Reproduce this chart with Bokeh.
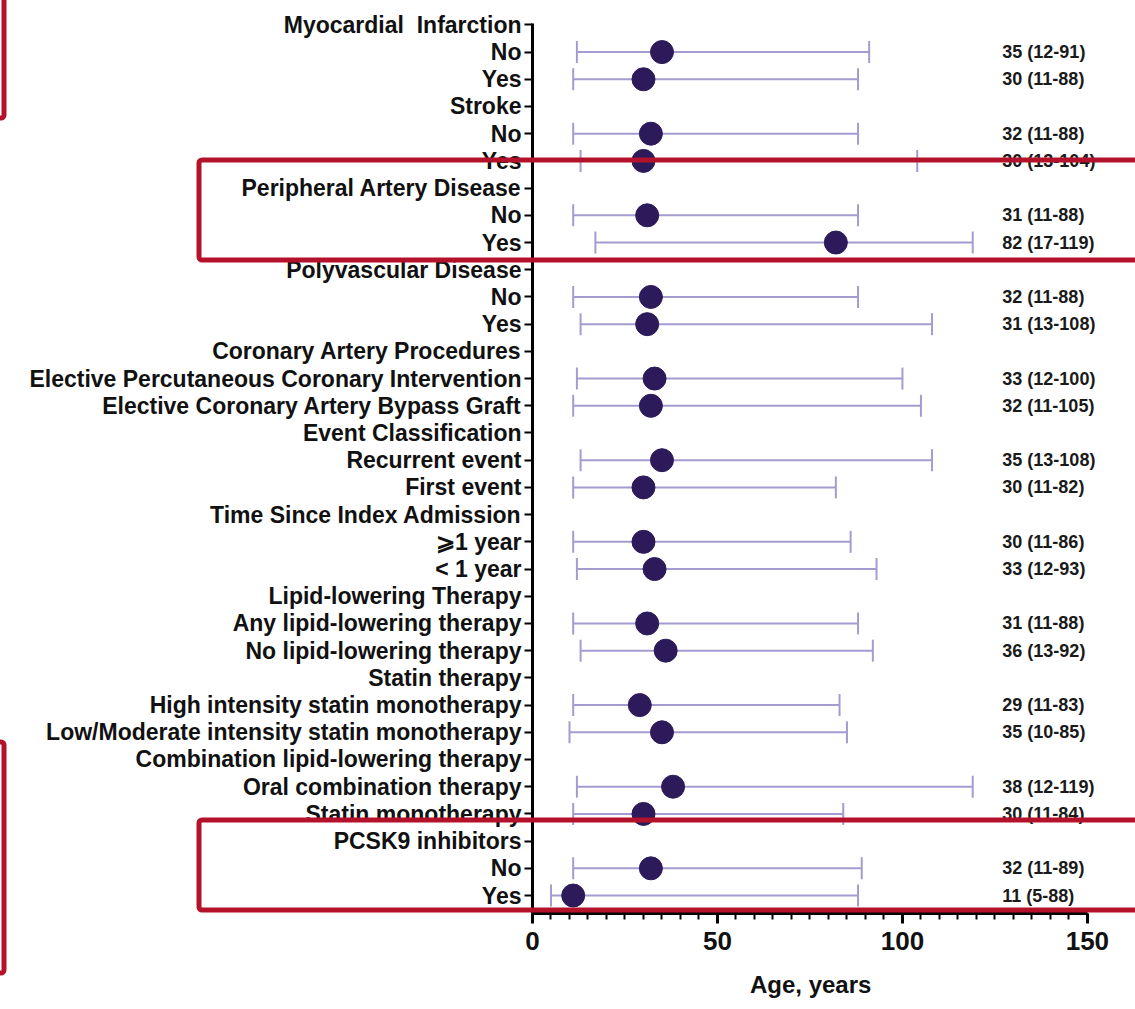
from bokeh.plotting import figure
from bokeh.layouts import column
from bokeh.models import Range1d, FixedTicker, ColumnDataSource, Whisker, TeeHead, Div
from bokeh.embed import file_html
from bokeh.resources import INLINE
from bokeh.core.properties import value

labels = [
    "Myocardial\u00a0\u00a0Infarction", "No", "Yes",
    "Stroke", "No", "Yes",
    "Peripheral Artery Disease", "No", "Yes",
    "Polyvascular Disease", "No", "Yes",
    "Coronary Artery Procedures",
    "Elective Percutaneous Coronary Intervention",
    "Elective Coronary Artery Bypass Graft",
    "Event Classification", "Recurrent event", "First event",
    "Time Since Index Admission", "\u2a7e1 year", "< 1 year",
    "Lipid-lowering Therapy", "Any lipid-lowering therapy", "No lipid-lowering therapy",
    "Statin therapy", "High intensity statin monotherapy",
    "Low/Moderate intensity statin monotherapy",
    "Combination lipid-lowering therapy", "Oral combination therapy", "Statin monotherapy",
    "PCSK9 inhibitors", "No", "Yes",
]
medians = [None, 35, 30, None, 32, 30, None, 31, 82, None, 32, 31, None, 33, 32,
           None, 35, 30, None, 30, 33, None, 31, 36, None, 29, 35, None, 38, 30,
           None, 32, 11]
lows = [None, 12, 11, None, 11, 13, None, 11, 17, None, 11, 13, None, 12, 11,
        None, 13, 11, None, 11, 12, None, 11, 13, None, 11, 10, None, 12, 11,
        None, 11, 5]
highs = [None, 91, 88, None, 88, 104, None, 88, 119, None, 88, 108, None, 100, 105,
         None, 108, 82, None, 86, 93, None, 88, 92, None, 83, 85, None, 119, 84,
         None, 89, 88]

x_ticks = [0, 50, 100, 150]

n = len(labels)
ypos = [n - 1 - i for i in range(n)]
rows = [i for i in range(n) if medians[i] is not None]
src = ColumnDataSource(dict(
    y=[ypos[i] for i in rows],
    m=[medians[i] for i in rows],
    lo=[lows[i] for i in rows],
    hi=[highs[i] for i in rows],
    txt=[f"{medians[i]} ({lows[i]}-{highs[i]})" for i in rows],
))

W, H = 1135, 1009
LABEL_X = 127
FONT = "Liberation Sans"
BAR = "#a59bd0"
DOT = "#2c1a5b"
RED = "#b3122a"

p = figure(width=W, height=H, output_backend="svg", toolbar_location=None,
           x_range=Range1d(0, 163), y_range=Range1d(-0.66, n - 1 + 0.05),
           min_border_left=532, min_border_right=0, min_border_top=23,
           min_border_bottom=96)
p.outline_line_color = None
p.grid.visible = False
p.background_fill_color = "white"

wh = Whisker(source=src, base="y", lower="lo", upper="hi", dimension="width",
             line_color=BAR, line_width=2,
             lower_head=TeeHead(size=22, line_color=BAR, line_width=2),
             upper_head=TeeHead(size=22, line_color=BAR, line_width=2))
p.add_layout(wh)
p.scatter(x="m", y="y", size=23, fill_color=DOT, line_color=DOT, source=src)
p.text(x=LABEL_X, y="y", text="txt", source=src, text_font=value(FONT),
       text_font_style="bold", text_font_size="18px", text_baseline="middle",
       text_color="#1a1a1a")

# y axis
ya = p.yaxis[0]
ya.ticker = FixedTicker(ticks=ypos, minor_ticks=[])
ya.major_label_overrides = {ypos[i]: labels[i] for i in range(n)}
ya.major_label_text_font = FONT
ya.major_label_text_font_style = "bold"
ya.major_label_text_font_size = "23px"
ya.major_label_text_color = "#111111"
ya.major_label_standoff = 3
ya.axis_line_width = 3
ya.axis_line_color = "black"
ya.major_tick_out = 8
ya.major_tick_in = 0
ya.major_tick_line_width = 2
ya.minor_tick_out = 0
ya.minor_tick_in = 0

# x axis
xa = p.xaxis[0]
xa.ticker = FixedTicker(ticks=x_ticks, minor_ticks=list(range(0, 151, 5)))
xa.bounds = (0, 150)
xa.axis_label = "Age, years" + "\u00a0" * 7
xa.axis_label_text_font = FONT
xa.axis_label_text_font_style = "bold"
xa.axis_label_text_font_size = "24px"
xa.axis_label_text_color = "#111111"
xa.axis_label_standoff = 18
xa.major_label_text_font = FONT
xa.major_label_text_font_style = "bold"
xa.major_label_text_font_size = "26px"
xa.major_label_text_color = "#111111"
xa.major_label_standoff = 8
xa.axis_line_width = 3
xa.axis_line_color = "black"
xa.major_tick_out = 10
xa.major_tick_in = 0
xa.major_tick_line_width = 3
xa.minor_tick_out = 6
xa.minor_tick_in = 0
xa.minor_tick_line_width = 2
xa.minor_tick_line_color = "black"

# red highlight boxes laid over the whole chart (page pixels)
boxes = [(-20, -20, 24, 138), (199, 160, 961, 100), (199, 820, 961, 90), (-20, 742, 24, 231)]
rects = "".join(
    f'<rect x="{x}" y="{y}" width="{w}" height="{h}" rx="3" ry="3" '
    f'fill="none" stroke="{RED}" stroke-width="5"/>' for x, y, w, h in boxes)
overlay = Div(text=f'<svg xmlns="http://www.w3.org/2000/svg" width="{W}" height="{H}" '
                   f'style="display:block">{rects}</svg>',
              width=W, height=H, margin=(-H, 0, 0, 0),
              styles={"position": "relative", "z-index": "10", "pointer-events": "none"})

layout = column(p, overlay, spacing=0)
open("out.html", "w").write(file_html(layout, INLINE))
